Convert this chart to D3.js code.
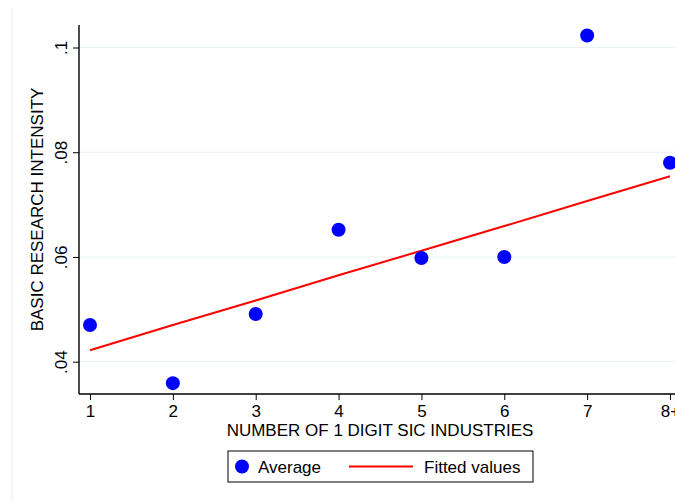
<!DOCTYPE html>
<html>
<head>
<meta charset="utf-8">
<script src="https://cdn.jsdelivr.net/npm/d3@7"></script>
<style>
  html, body { margin: 0; padding: 0; background: #fff; }
  svg { display: block; font-family: "Liberation Sans", Arial, sans-serif; }
</style>
</head>
<body>
<svg id="chart" width="675" height="502"></svg>
<script>
// Number of 1-digit SIC industries a firm spans
const categories = [1, 2, 3, 4, 5, 6, 7, 8];
const tickLabels = ["1", "2", "3", "4", "5", "6", "7", "8+"];
// Average basic research intensity per category
const averages = [0.0470, 0.0359, 0.0491, 0.0652, 0.0598, 0.0600, 0.1023, 0.0780];
// Fitted values from the linear regression
const fitted = [0.0422, 0.0470, 0.0517, 0.0565, 0.0612, 0.0659, 0.0707, 0.0754];
const yTicks = [0.04, 0.06, 0.08, 0.1];
const yTickLabels = [".04", ".06", ".08", ".1"];

(function () {
  const svg = d3.select("#chart");
  const W = 675, H = 502;
  const fs = 17;

  // plot region
  const pl = 79, pr = 677, pt = 25, pb = 394;

  const x = d3.scaleLinear().domain([1, 8]).range([90, 670]);
  x.domain([x.invert(pl), x.invert(pr)]).range([pl, pr]);

  const y = d3.scaleLinear().domain([0.04, 0.1]).range([361.7, 47.5]);
  y.domain([y.invert(pb), y.invert(pt)]).range([pb, pt]);

  // outer graph-region edge
  svg.append("line")
    .attr("x1", 12).attr("x2", 12).attr("y1", 7).attr("y2", H)
    .attr("stroke", "#eef1f3").attr("stroke-width", 1);

  // gridlines
  svg.append("g").selectAll("line").data(yTicks).join("line")
    .attr("x1", pl).attr("x2", W)
    .attr("y1", d => y(d)).attr("y2", d => y(d))
    .attr("stroke", "#e8f0f2").attr("stroke-width", 1);

  // y axis
  const yAxis = svg.append("g")
    .attr("transform", `translate(${pl},0)`)
    .call(d3.axisLeft(y).tickValues(yTicks).tickSize(6)
      .tickFormat((d, i) => yTickLabels[i]));
  yAxis.select(".domain").attr("stroke", "#000").attr("stroke-width", 1.4)
    .attr("d", `M0,${pt}V${pb}`);
  yAxis.selectAll(".tick line").attr("stroke", "#000").attr("stroke-width", 1);
  yAxis.selectAll(".tick text")
    .attr("font-size", fs).attr("fill", "#000")
    .attr("x", null).attr("dy", null)
    .attr("transform", "translate(-12,0) rotate(-90)")
    .attr("text-anchor", "middle");

  // x axis
  const xAxis = svg.append("g")
    .attr("transform", `translate(0,${pb})`)
    .call(d3.axisBottom(x).tickValues(categories).tickSize(6)
      .tickFormat((d, i) => tickLabels[i]));
  xAxis.select(".domain").attr("stroke", "#000").attr("stroke-width", 1.4)
    .attr("d", `M${pl},0H${pr}`);
  xAxis.selectAll(".tick line").attr("stroke", "#000").attr("stroke-width", 1);
  xAxis.selectAll(".tick text")
    .attr("font-size", fs).attr("fill", "#000").attr("y", 11).attr("dy", "0.71em");

  // axis titles
  svg.append("text")
    .attr("x", 380).attr("y", 436)
    .attr("text-anchor", "middle").attr("font-size", fs).attr("fill", "#000")
    .text("NUMBER OF 1 DIGIT SIC INDUSTRIES");
  svg.append("text")
    .attr("transform", `translate(43,${(pt + pb) / 2}) rotate(-90)`)
    .attr("text-anchor", "middle").attr("font-size", fs).attr("fill", "#000")
    .text("BASIC RESEARCH INTENSITY");

  // fitted line
  const line = d3.line().x((d, i) => x(categories[i])).y(d => y(d));
  svg.append("path").datum(fitted)
    .attr("d", line).attr("fill", "none")
    .attr("stroke", "#ff0000").attr("stroke-width", 2);

  // averages
  svg.append("g").selectAll("circle").data(averages).join("circle")
    .attr("cx", (d, i) => x(categories[i])).attr("cy", d => y(d))
    .attr("r", 7).attr("fill", "#0000ff");

  // legend
  const lg = svg.append("g");
  lg.append("rect").attr("x", 228).attr("y", 451).attr("width", 305).attr("height", 31)
    .attr("fill", "#fff").attr("stroke", "#000").attr("stroke-width", 1);
  lg.append("circle").attr("cx", 242).attr("cy", 466.5).attr("r", 7).attr("fill", "#0000ff");
  lg.append("text").attr("x", 258).attr("y", 473).attr("font-size", fs).attr("fill", "#000")
    .text("Average");
  lg.append("line").attr("x1", 349).attr("x2", 413).attr("y1", 466.5).attr("y2", 466.5)
    .attr("stroke", "#ff0000").attr("stroke-width", 2);
  lg.append("text").attr("x", 424).attr("y", 473).attr("font-size", fs).attr("fill", "#000")
    .text("Fitted values");
})();
</script>
</body>
</html>
